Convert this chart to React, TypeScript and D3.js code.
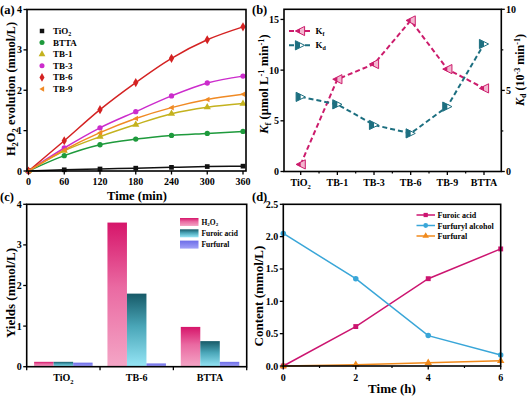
import React from 'react';
import * as d3 from 'd3';

// ---------- Data ----------
// (a) H2O2 evolution
const timeMin = [0, 60, 120, 180, 240, 300, 360];
const tio2A = [0, 0.03, 0.05, 0.07, 0.09, 0.11, 0.12];
const bttaA = [0, 0.38, 0.65, 0.79, 0.88, 0.93, 0.98];
const tb1A = [0, 0.5, 0.85, 1.15, 1.42, 1.58, 1.67];
const tb3A = [0, 0.57, 1.07, 1.47, 1.86, 2.18, 2.35];
const tb6A = [0, 0.75, 1.52, 2.19, 2.79, 3.25, 3.57];
const tb9A = [0, 0.52, 0.95, 1.3, 1.57, 1.77, 1.9];
const seriesNamesA = ['TiO2', 'BTTA', 'TB-1', 'TB-3', 'TB-6', 'TB-9'];
const timeTicks = [0, 60, 120, 180, 240, 300, 360];
const h2o2Ticks = [0, 1, 2, 3, 4];

// (b) Kf / Kd
const catsB = ['TiO2', 'TB-1', 'TB-3', 'TB-6', 'TB-9', 'BTTA'];
const kfValues = [0.7, 9.1, 10.6, 14.9, 10.1, 8.2];
const kdValues = [4.6, 4.14, 2.87, 2.35, 4.0, 7.86];
const kfTicks = [0, 5, 10, 15];
const kdTicks = [0, 5, 10];

// (c) Yields
const catsC = ['TiO2', 'TB-6', 'BTTA'];
const h2o2Yield = [0.12, 3.55, 0.98];
const furoicYield = [0.12, 1.8, 0.63];
const furfuralYield = [0.1, 0.08, 0.12];
const yieldTicks = [0, 1, 2, 3, 4];

// (d) Content vs time
const timeH = [0, 2, 4, 6];
const furoicD = [0, 0.61, 1.35, 1.81];
const furfurylD = [2.05, 1.35, 0.47, 0.17];
const furfuralD = [0, 0.02, 0.05, 0.08];
const contentTicks = [0, 0.5, 1.0, 1.5, 2.0, 2.5];
const timeHTicks = [0, 2, 4, 6];
const timeHMinor = [1, 3, 5];

// ---------- Styles ----------
const FONT = '"Liberation Serif", "Times New Roman", serif';
const colorsA = ['#111111', '#1e9a3c', '#c4b21e', '#cc2ccc', '#d42222', '#f08a24'];

const triLeft = (s: number) => `M${-s},0L${s * 0.8},${-s}L${s * 0.8},${s}Z`;

function markerPath(kind: string, size: number) {
  if (kind === 'square') return d3.symbol().type(d3.symbolSquare).size(size)()!;
  if (kind === 'circle') return d3.symbol().type(d3.symbolCircle).size(size)()!;
  if (kind === 'triangle') return d3.symbol().type(d3.symbolTriangle).size(size)()!;
  if (kind === 'diamond') return d3.symbol().type(d3.symbolDiamond).size(size * 1.1)()!;
  return triLeft(Math.sqrt(size) * 0.6);
}
const markersA = ['square', 'circle', 'triangle', 'circle', 'diamond', 'left'];

const frameStyle = { fill: 'none', stroke: '#000', strokeWidth: 1.6 };

function YTicksLeft({ scale, ticks, x, fmt, len = 3.5 }: any) {
  return (
    <g>
      {ticks.map((t: number) => (
        <g key={t}>
          <line x1={x - len} x2={x} y1={scale(t)} y2={scale(t)} stroke="#000" strokeWidth={1.3} />
          <text x={x - len - 1.5} y={scale(t) + 3.5} textAnchor="end" fontSize={10} fontWeight="bold" fontFamily={FONT}>
            {fmt ? fmt(t) : t}
          </text>
        </g>
      ))}
    </g>
  );
}

function XTicks({ scale, ticks, y, labels, len = 3.5, ty }: any) {
  return (
    <g>
      {ticks.map((t: any, i: number) => (
        <g key={i}>
          <line x1={scale(t)} x2={scale(t)} y1={y} y2={y + len} stroke="#000" strokeWidth={1.3} />
          {labels && (
            <text x={scale(t)} y={ty} textAnchor="middle" fontSize={10} fontWeight="bold" fontFamily={FONT}>
              {labels[i]}
            </text>
          )}
        </g>
      ))}
    </g>
  );
}

function CatLabel({ x, y, name, fs = 10 }: any) {
  if (name === 'TiO2') {
    return (
      <text x={x} y={y} textAnchor="middle" fontSize={fs} fontWeight="bold" fontFamily={FONT}>
        TiO<tspan fontSize={fs * 0.65} dy={2.5}>2</tspan>
      </text>
    );
  }
  return (
    <text x={x} y={y} textAnchor="middle" fontSize={fs} fontWeight="bold" fontFamily={FONT}>
      {name}
    </text>
  );
}

export default function App() {
  // ---------- Panel A ----------
  const xA = d3.scaleLinear().domain([0, 360]).range([28.5, 243]);
  const yA = d3.scaleLinear().domain([0, 4]).range([171, 9.5]);
  const dataA = [tio2A, bttaA, tb1A, tb3A, tb6A, tb9A];
  const lineA = d3
    .line<number>()
    .x((_, i) => xA(timeMin[i]))
    .y((d) => yA(d))
    .curve(d3.curveMonotoneX);

  // ---------- Panel B ----------
  const xB = d3.scalePoint<string>().domain(catsB).range([300.7, 484]);
  const yBL = d3.scaleLinear().domain([0, 16]).range([171.5, 9.3]);
  const yBR = d3.scaleLinear().domain([0, 10]).range([171.5, 9.3]);
  const lineKf = d3
    .line<number>()
    .x((_, i) => xB(catsB[i])!)
    .y((d) => yBL(d));
  const lineKd = d3
    .line<number>()
    .x((_, i) => xB(catsB[i])!)
    .y((d) => yBR(d));
  const kfColor = '#cc1c6c';
  const kfLight = '#f3b6cf';
  const kdColor = '#1d6f80';
  const stepB = xB.step();
  const minorB = catsB.slice(0, -1).map((c) => xB(c)! + stepB / 2);

  const kfMarker = (x: number, y: number, key: any) => {
    const s = 4.6;
    return (
      <g key={key} transform={`translate(${x},${y})`}>
        <path d={`M${-s},0L${s},${-s}L${s},${s}Z`} fill={kfLight} stroke={kfColor} strokeWidth={1} />
        <path d={`M${-s},0L0,${-s / 2}L0,${s / 2}Z`} fill={kfColor} />
      </g>
    );
  };
  const kdMarker = (x: number, y: number, key: any) => {
    const s = 4.6;
    return (
      <g key={key} transform={`translate(${x},${y})`}>
        <path d={`M${s},0L${-s},${-s}L${-s},${s}Z`} fill="#ffffff" stroke={kdColor} strokeWidth={1} />
        <path d={`M${-s},${-s}L0,${-s / 2}L0,${s / 2}L${-s},${s}Z`} fill={kdColor} />
      </g>
    );
  };

  // ---------- Panel C ----------
  const xC = d3.scaleBand<string>().domain(catsC).range([26.7, 246.7]);
  const xCInner = d3.scaleBand<number>().domain([0, 1, 2]).range([0, 58.5]);
  const yC = d3.scaleLinear().domain([0, 4]).range([366.7, 204.3]);
  const yieldSeries = [h2o2Yield, furoicYield, furfuralYield];
  const gradIds = ['gH2O2', 'gFuroic', 'gFurfural'];
  const legendC = ['H2O2', 'Furoic acid', 'Furfural'];

  // ---------- Panel D ----------
  const xD = d3.scaleLinear().domain([0, 6]).range([283.3, 500.7]);
  const yD = d3.scaleLinear().domain([0, 2.5]).range([366, 204.3]);
  const lineD = d3
    .line<number>()
    .x((_, i) => xD(timeH[i]))
    .y((d) => yD(d));
  const seriesD = [furoicD, furfurylD, furfuralD];
  const colorsD = ['#cc1570', '#39a6d8', '#f08a1c'];
  const markersD = ['square', 'circle', 'triangle'];
  const namesD = ['Furoic acid', 'Furfuryl alcohol', 'Furfural'];

  return (
    <svg
      width={529}
      height={397}
      style={{ position: 'absolute', left: 0, top: 0, background: '#fff' }}
      fontFamily={FONT}
    >
      <defs>
        <linearGradient id="gH2O2" x1="0" y1="0" x2="0" y2="1">
          <stop offset="0" stopColor="#d6156a" />
          <stop offset="0.45" stopColor="#ea6aa2" />
          <stop offset="1" stopColor="#f4a6c6" />
        </linearGradient>
        <linearGradient id="gFuroic" x1="0" y1="0" x2="0" y2="1">
          <stop offset="0" stopColor="#175a68" />
          <stop offset="0.45" stopColor="#4aa6b8" />
          <stop offset="1" stopColor="#96e6f6" />
        </linearGradient>
        <linearGradient id="gFurfural" x1="0" y1="0" x2="0" y2="1">
          <stop offset="0" stopColor="#6d6de8" />
          <stop offset="1" stopColor="#a2a2f8" />
        </linearGradient>
      </defs>

      {/* ===== Panel A ===== */}
      <text x={0} y={14} fontSize={12.5} fontWeight="bold">(a)</text>
      {dataA.map((vals, si) => (
        <path key={si} d={lineA(vals)!} fill="none" stroke={colorsA[si]} strokeWidth={1.5} />
      ))}
      {dataA.map((vals, si) =>
        vals.map((v, i) => (
          <path
            key={`${si}-${i}`}
            d={markerPath(markersA[si], 22)}
            transform={`translate(${xA(timeMin[i])},${yA(v)})`}
            fill={colorsA[si]}
          />
        ))
      )}
      {seriesNamesA.map((n, i) => {
        const y = 31 + i * 11.6;
        return (
          <g key={n}>
            <path d={markerPath(markersA[i], 20)} transform={`translate(42,${y})`} fill={colorsA[i]} />
            {n === 'TiO2' ? (
              <text x={53} y={y + 3} fontSize={9} fontWeight="bold">
                TiO<tspan fontSize={6} dy={2}>2</tspan>
              </text>
            ) : (
              <text x={53} y={y + 3} fontSize={9} fontWeight="bold">{n}</text>
            )}
          </g>
        );
      })}
      <rect x={27} y={9.5} width={219} height={161.5} style={frameStyle} />
      <YTicksLeft scale={yA} ticks={h2o2Ticks} x={27} />
      <XTicks scale={xA} ticks={timeTicks} y={171} labels={timeTicks} ty={185} />
      <text x={137} y={199.5} textAnchor="middle" fontSize={12.5} fontWeight="bold">Time (min)</text>
      <text transform="translate(15,89) rotate(-90)" textAnchor="middle" fontSize={12.5} fontWeight="bold">
        H<tspan fontSize={8.5} dy={3}>2</tspan>
        <tspan dy={-3}>O</tspan>
        <tspan fontSize={8.5} dy={3}>2</tspan>
        <tspan dy={-3}> evolution (mmol/L)</tspan>
      </text>

      {/* ===== Panel B ===== */}
      <text x={252} y={14} fontSize={12.5} fontWeight="bold">(b)</text>
      <path d={lineKf(kfValues)!} fill="none" stroke={kfColor} strokeWidth={2} strokeDasharray="5,3" />
      <path d={lineKd(kdValues)!} fill="none" stroke={kdColor} strokeWidth={2} strokeDasharray="5,3" />
      {kfValues.map((v, i) => kfMarker(xB(catsB[i])!, yBL(v), `kf${i}`))}
      {kdValues.map((v, i) => kdMarker(xB(catsB[i])!, yBR(v), `kd${i}`))}
      <line x1={289} x2={311} y1={31} y2={31} stroke={kfColor} strokeWidth={2} strokeDasharray="5,3" />
      {kfMarker(300, 31, 'lkf')}
      <text x={315.5} y={34} fontSize={9} fontWeight="bold">
        K<tspan fontSize={6} dy={2}>f</tspan>
      </text>
      <line x1={289} x2={311} y1={45.3} y2={45.3} stroke={kdColor} strokeWidth={2} strokeDasharray="5,3" />
      {kdMarker(300, 45.3, 'lkd')}
      <text x={315.5} y={48.3} fontSize={9} fontWeight="bold">
        K<tspan fontSize={6} dy={2}>d</tspan>
      </text>
      <rect x={284} y={9.3} width={217.3} height={162.2} style={frameStyle} />
      <YTicksLeft scale={yBL} ticks={kfTicks} x={284} />
      {kdTicks.map((t) => (
        <g key={t}>
          <line x1={501.3} x2={504.8} y1={yBR(t)} y2={yBR(t)} stroke="#000" strokeWidth={1.3} />
          <text x={506} y={yBR(t) + 3.5} fontSize={10} fontWeight="bold">{t}</text>
        </g>
      ))}
      {[2.5, 7.5].map((t) => (
        <line key={t} x1={501.3} x2={503.3} y1={yBR(t)} y2={yBR(t)} stroke="#000" strokeWidth={1.2} />
      ))}
      {catsB.map((c) => (
        <g key={c}>
          <line x1={xB(c)!} x2={xB(c)!} y1={171.5} y2={175} stroke="#000" strokeWidth={1.3} />
          <CatLabel x={xB(c)!} y={186} name={c} />
        </g>
      ))}
      {minorB.map((x, i) => (
        <line key={i} x1={x} x2={x} y1={171.5} y2={173.5} stroke="#000" strokeWidth={1.2} />
      ))}
      <text transform="translate(268,84) rotate(-90)" textAnchor="middle" fontSize={12.5} fontWeight="bold">
        <tspan fontStyle="italic">K</tspan>
        <tspan fontSize={8.5} dy={3}>f</tspan>
        <tspan dy={-3}> (μmol L</tspan>
        <tspan fontSize={8.5} dy={-4}>-1</tspan>
        <tspan dy={4}> min</tspan>
        <tspan fontSize={8.5} dy={-4}>-1</tspan>
        <tspan dy={4}>)</tspan>
      </text>
      <text transform="translate(523.5,70) rotate(-90)" textAnchor="middle" fontSize={12} fontWeight="bold">
        <tspan fontStyle="italic">K</tspan>
        <tspan fontSize={8} dy={2.5}>d</tspan>
        <tspan dy={-2.5}> (10</tspan>
        <tspan fontSize={8} dy={-4}>-3</tspan>
        <tspan dy={4}> min</tspan>
        <tspan fontSize={8} dy={-4}>-1</tspan>
        <tspan dy={4}>)</tspan>
      </text>

      {/* ===== Panel C ===== */}
      <text x={0} y={201} fontSize={12.5} fontWeight="bold">(c)</text>
      {catsC.map((c, ci) =>
        yieldSeries.map((vals, si) => {
          const x0 = xC(c)! + (xC.bandwidth() - 58.5) / 2 + xCInner(si)!;
          return (
            <rect
              key={`${ci}-${si}`}
              x={x0}
              y={yC(vals[ci])}
              width={xCInner.bandwidth()}
              height={yC(0) - yC(vals[ci])}
              fill={`url(#${gradIds[si]})`}
            />
          );
        })
      )}
      {legendC.map((n, i) => {
        const y = 218 + i * 11.3;
        return (
          <g key={n}>
            <rect x={180} y={y} width={18.5} height={8} fill={`url(#${gradIds[i]})`} />
            {n === 'H2O2' ? (
              <text x={201.5} y={y + 6.5} fontSize={7.5} fontWeight="bold">
                H<tspan fontSize={5} dy={1.5}>2</tspan>
                <tspan dy={-1.5}>O</tspan>
                <tspan fontSize={5} dy={1.5}>2</tspan>
              </text>
            ) : (
              <text x={201.5} y={y + 6.5} fontSize={7.5} fontWeight="bold">{n}</text>
            )}
          </g>
        );
      })}
      <rect x={26.7} y={204.3} width={220} height={162.4} style={frameStyle} />
      <YTicksLeft scale={yC} ticks={yieldTicks} x={26.7} />
      {[...catsC.map((c) => xC(c)!), 246.7].map((x, i) => (
        <line key={i} x1={x} x2={x} y1={366.7} y2={370.2} stroke="#000" strokeWidth={1.3} />
      ))}
      {catsC.map((c) => (
        <CatLabel key={c} x={xC(c)! + xC.bandwidth() / 2} y={381} name={c} />
      ))}
      <text transform="translate(15,293) rotate(-90)" textAnchor="middle" fontSize={13} fontWeight="bold">
        Yields (mmol/L)
      </text>

      {/* ===== Panel D ===== */}
      <text x={252} y={201} fontSize={12.5} fontWeight="bold">(d)</text>
      {seriesD.map((vals, si) => (
        <g key={si}>
          <path d={lineD(vals)!} fill="none" stroke={colorsD[si]} strokeWidth={1.5} />
          {vals.map((v, i) => (
            <path
              key={i}
              d={markerPath(markersD[si], 24)}
              transform={`translate(${xD(timeH[i])},${yD(v)})`}
              fill={colorsD[si]}
            />
          ))}
        </g>
      ))}
      {namesD.map((n, i) => {
        const y = 215 + i * 10.5;
        return (
          <g key={n}>
            <line x1={416.5} x2={435} y1={y} y2={y} stroke={colorsD[i]} strokeWidth={1.5} />
            <path d={markerPath(markersD[i], 18)} transform={`translate(425.7,${y})`} fill={colorsD[i]} />
            <text x={437.5} y={y + 3} fontSize={8} fontWeight="bold">{n}</text>
          </g>
        );
      })}
      <rect x={283.3} y={204.3} width={217.4} height={161.7} style={frameStyle} />
      <YTicksLeft scale={yD} ticks={contentTicks} x={283.3} fmt={(t: number) => t.toFixed(1)} />
      <XTicks scale={xD} ticks={timeHTicks} y={366} labels={timeHTicks} ty={381} />
      {timeHMinor.map((t) => (
        <line key={t} x1={xD(t)} x2={xD(t)} y1={366} y2={368} stroke="#000" strokeWidth={1.2} />
      ))}
      <text x={392} y={393} textAnchor="middle" fontSize={13} fontWeight="bold">Time (h)</text>
      <text transform="translate(263,296) rotate(-90)" textAnchor="middle" fontSize={13} fontWeight="bold">
        Content (mmol/L)
      </text>
    </svg>
  );
}
